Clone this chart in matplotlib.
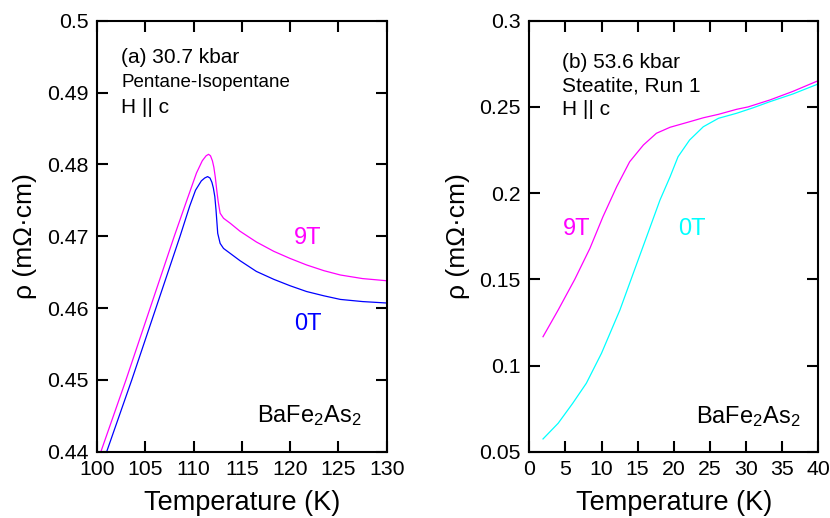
import matplotlib
matplotlib.use("Agg")
import matplotlib.pyplot as plt
from matplotlib.ticker import FuncFormatter
import numpy as np

plt.rcParams['font.family'] = ['Liberation Sans', 'DejaVu Sans']
plt.rcParams['mathtext.fontset'] = 'custom'
plt.rcParams['mathtext.rm'] = 'Liberation Sans'
plt.rcParams['mathtext.default'] = 'regular'

# (a) 30.7 kbar, pentane-isopentane
T_a_9T = [100.4, 103.0, 105.5, 108.0, 109.3, 110.3, 110.9, 111.3, 111.55, 111.75,
          111.95, 112.1, 112.25, 112.4, 112.55, 112.75, 113.1, 113.8, 114.8, 116.5,
          118.3, 120.0, 121.7, 123.5, 125.2, 127.5, 130.0]
R_a_9T = [0.4400, 0.4500, 0.4600, 0.4700, 0.4750, 0.4788, 0.4805, 0.4812, 0.4814, 0.4812,
          0.4805, 0.4796, 0.4782, 0.4764, 0.4748, 0.4732, 0.4725, 0.4718, 0.4707, 0.4692,
          0.4679, 0.4669, 0.4660, 0.4652, 0.4646, 0.4641, 0.4638]

T_a_0T = [101.0, 103.6, 106.1, 108.6, 109.6, 110.2, 110.8, 111.15, 111.45, 111.7,
          111.9, 112.05, 112.2, 112.32, 112.5, 112.75, 113.1, 113.8, 114.8, 116.5,
          118.3, 120.0, 121.7, 123.5, 125.2, 127.5, 130.0]
R_a_0T = [0.4400, 0.4500, 0.4600, 0.4700, 0.4742, 0.4764, 0.4777, 0.4781, 0.4783, 0.4781,
          0.4775, 0.4767, 0.4755, 0.4737, 0.4704, 0.4690, 0.4683, 0.4676, 0.4666, 0.4651,
          0.4640, 0.4631, 0.4623, 0.4617, 0.4612, 0.4609, 0.4607]

# (b) 53.6 kbar, steatite run 1
T_b_9T = [1.9, 4.0, 6.3, 8.4, 10.2, 12.1, 13.9, 15.8, 17.6, 19.5, 22.2, 24.1, 26.2,
          28.7, 30.3, 33.3, 36.5, 40.0]
R_b_9T = [0.1167, 0.1322, 0.1500, 0.1680, 0.1863, 0.2037, 0.2182, 0.2279, 0.2347, 0.2382,
          0.2414, 0.2437, 0.2457, 0.2486, 0.2500, 0.2540, 0.2590, 0.2652]

T_b_0T = [1.9, 4.0, 6.0, 7.9, 10.0, 12.55, 14.4, 16.25, 18.1, 19.5, 20.6, 22.2, 24.1,
          26.2, 28.7, 31.0, 33.3, 36.5, 40.0]
R_b_0T = [0.0574, 0.0665, 0.0780, 0.0897, 0.1071, 0.1322, 0.1535, 0.1747, 0.1960, 0.2095,
          0.2211, 0.2308, 0.2385, 0.2434, 0.2463, 0.2495, 0.2530, 0.2575, 0.2633]

fig = plt.figure(figsize=(8.3, 5.18), dpi=100)
ax1 = fig.add_axes([0.1169, 0.128, 0.349, 0.832])
ax2 = fig.add_axes([0.6377, 0.128, 0.348, 0.832])

fmt = FuncFormatter(lambda v, p: '%g' % round(v, 4))


def style(ax, xlim, ylim, xticks, yticks):
    ax.set_xlim(xlim)
    ax.set_ylim(ylim)
    ax.set_xticks(xticks)
    ax.set_yticks(yticks)
    ax.yaxis.set_major_formatter(fmt)
    ax.tick_params(direction='in', length=8, width=1.5, labelsize=15.3,
                   top=True, right=True, pad=6)
    for s in ax.spines.values():
        s.set_linewidth(1.5)
    ax.set_xlabel('Temperature (K)', fontsize=19.5, labelpad=8)
    ax.set_ylabel('ρ (mΩ·cm)', fontsize=19, labelpad=7)


# left panel
ax1.plot(T_a_9T, R_a_9T, color='#ff00ff', lw=0.9)
ax1.plot(T_a_0T, R_a_0T, color='#0000ff', lw=0.9)
style(ax1, (100, 130), (0.44, 0.5), np.arange(100, 131, 5), np.arange(0.44, 0.5001, 0.01))
ax1.text(102.5, 0.4941, '(a) 30.7 kbar', fontsize=15, va='baseline')
ax1.text(102.5, 0.49077, 'Pentane-Isopentane', fontsize=13.5, va='baseline')
ax1.text(102.5, 0.4872, 'H || c', fontsize=15, va='baseline')
ax1.text(120.4, 0.46892, '9T', fontsize=17, color='#ff00ff', va='baseline')
ax1.text(120.4, 0.45695, '0T', fontsize=17, color='#0000ff', va='baseline')
ax1.text(116.57, 0.44418, 'BaFe$_2$As$_2$', fontsize=17, va='baseline')

# right panel
ax2.plot(T_b_9T, R_b_9T, color='#ff00ff', lw=0.9)
ax2.plot(T_b_0T, R_b_0T, color='#00ffff', lw=0.9)
style(ax2, (0, 40), (0.05, 0.3), np.arange(0, 41, 5), np.arange(0.05, 0.3001, 0.05))
ax2.text(4.48, 0.2726, '(b) 53.6 kbar', fontsize=15, va='baseline')
ax2.text(4.48, 0.2588, 'Steatite, Run 1', fontsize=15, va='baseline')
ax2.text(4.48, 0.2453, 'H || c', fontsize=15, va='baseline')
ax2.text(4.62, 0.1757, '9T', fontsize=17, color='#ff00ff', va='baseline')
ax2.text(20.62, 0.1757, '0T', fontsize=17, color='#00ffff', va='baseline')
ax2.text(23.07, 0.0668, 'BaFe$_2$As$_2$', fontsize=17, va='baseline')

fig.savefig('out.png', dpi=100)
